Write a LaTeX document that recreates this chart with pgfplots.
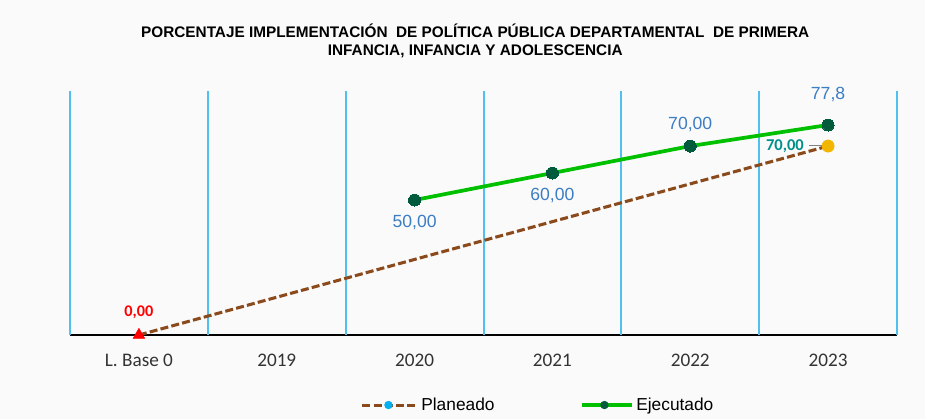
\documentclass[border=0pt]{standalone}
\usepackage{fontspec}
\setmainfont{Liberation Sans}
\newfontfamily\calibri{Carlito}
\usepackage{pgfplots}
\pgfplotsset{compat=1.18}
\definecolor{gridblue}{HTML}{4FC0F0}
\definecolor{planbrown}{HTML}{8B4A1C}
\definecolor{ejgreen}{HTML}{00C000}
\definecolor{ejdark}{HTML}{005A3C}
\definecolor{gold}{HTML}{F2B600}
\definecolor{lblblue}{HTML}{3C7DC4}
\definecolor{tealtxt}{HTML}{00908C}
\definecolor{legcyan}{HTML}{00B0F0}
\definecolor{bg}{HTML}{FAFAFA}
\begin{document}
\begin{tikzpicture}
\fill[bg] (0pt,0pt) rectangle (693.75pt,314.25pt);
\useasboundingbox (0pt,0pt) rectangle (693.75pt,314.25pt);
\begin{axis}[
  at={(52.5pt,63pt)}, anchor=south west,
  scale only axis, width=620.25pt, height=183pt,
  xmin=-0.5, xmax=5.5, ymin=0, ymax=90.4,
  clip=false,
  axis x line*=bottom, axis y line=none,
  x axis line style={black, line width=1.2pt, -},
  xtick={0,1,2,3,4,5},
  xticklabels={L. Base 0,2019,2020,2021,2022,2023},
  major tick length=0pt,
  grid style={gridblue, line width=1.5pt},
  major grid style={gridblue, line width=1.5pt},
  extra x ticks={-0.5,0.5,1.5,2.5,3.5,4.5,5.5},
  extra x tick labels={},
  extra x tick style={xmajorgrids=true, major tick length=0pt,
    grid style={gridblue, line width=1.5pt},
    major grid style={gridblue, line width=1.5pt}},
  ytick=\empty,
  xticklabel style={font=\calibri\fontsize{14.4}{16}\selectfont, text=black!80, yshift=-10.5pt},
  title={PORCENTAJE IMPLEMENTACIÓN\ \ DE POLÍTICA PÚBLICA DEPARTAMENTAL\ \ DE PRIMERA\\INFANCIA, INFANCIA Y ADOLESCENCIA},
  title style={font=\bfseries\fontsize{11.5}{13.5}\selectfont, align=center, at={(0.490,1.174)}, anchor=center},
  legend columns=2,
  legend style={at={(0.5665,-0.287)}, anchor=center, draw=none, fill=none,
    font=\fontsize{13}{15}\selectfont,
    /tikz/every even column/.append style={column sep=62pt}},
]
% Planeado
\addplot[planbrown, line width=2.3pt, dash pattern=on 6pt off 2.4pt, forget plot]
  coordinates {(0,0) (1,14) (2,28) (3,42) (4,56) (5,70)};
\addplot[only marks, mark=triangle*, mark size=5pt, color=red, forget plot,
  point meta=explicit symbolic, nodes near coords,
  every node near coord/.append style={anchor=center, yshift=17pt, text=red,
    font=\calibri\bfseries\fontsize{12.2}{14}\selectfont}]
  coordinates {(0,0) [0,00]};
\draw[gray, line width=0.6pt] (axis cs:4.86,70.1) -- (axis cs:4.98,70.1);
\addplot[only marks, mark=*, mark size=4.6pt, color=gold, forget plot,
  point meta=explicit symbolic, nodes near coords,
  every node near coord/.append style={anchor=east, inner sep=0pt, xshift=-18pt, text=tealtxt,
    font=\calibri\bfseries\fontsize{12.4}{14}\selectfont}]
  coordinates {(5,70) [70,00]};
% Ejecutado
\addplot[ejgreen, line width=2.8pt, mark=*, mark size=4.5pt,
  mark options={fill=ejdark, draw=ejdark, line width=0pt}, forget plot]
  coordinates {(2,50) (3,60) (4,70) (5,77.8)};
\addplot[draw=none, forget plot, point meta=explicit symbolic, nodes near coords,
  every node near coord/.append style={anchor=center, yshift=-16.5pt, text=lblblue,
    font=\fontsize{13.2}{15}\selectfont}]
  coordinates {(2,50) [50,00] (3,60) [60,00]};
\addplot[draw=none, forget plot, point meta=explicit symbolic, nodes near coords,
  every node near coord/.append style={anchor=center, yshift=16.5pt, text=lblblue,
    font=\fontsize{13.2}{15}\selectfont}]
  coordinates {(4,70) [70,00]};
\addplot[draw=none, forget plot, point meta=explicit symbolic, nodes near coords,
  every node near coord/.append style={anchor=center, yshift=23pt, text=lblblue,
    font=\fontsize{13.2}{15}\selectfont}]
  coordinates {(5,77.8) [77,8]};
% legend
\addlegendimage{legend image code/.code={
  \draw[planbrown, line width=2.3pt, dash pattern=on 6pt off 2.4pt] (0pt,0pt) -- (41pt,0pt);
  \fill[legcyan] (19.5pt,0pt) circle (2.9pt);}}
\addlegendentry{Planeado}
\addlegendimage{legend image code/.code={
  \draw[ejgreen, line width=2.8pt] (0pt,0pt) -- (37.5pt,0pt);
  \fill[ejdark] (17pt,0pt) circle (2.9pt);}}
\addlegendentry{Ejecutado}
\end{axis}
\end{tikzpicture}
\end{document}
